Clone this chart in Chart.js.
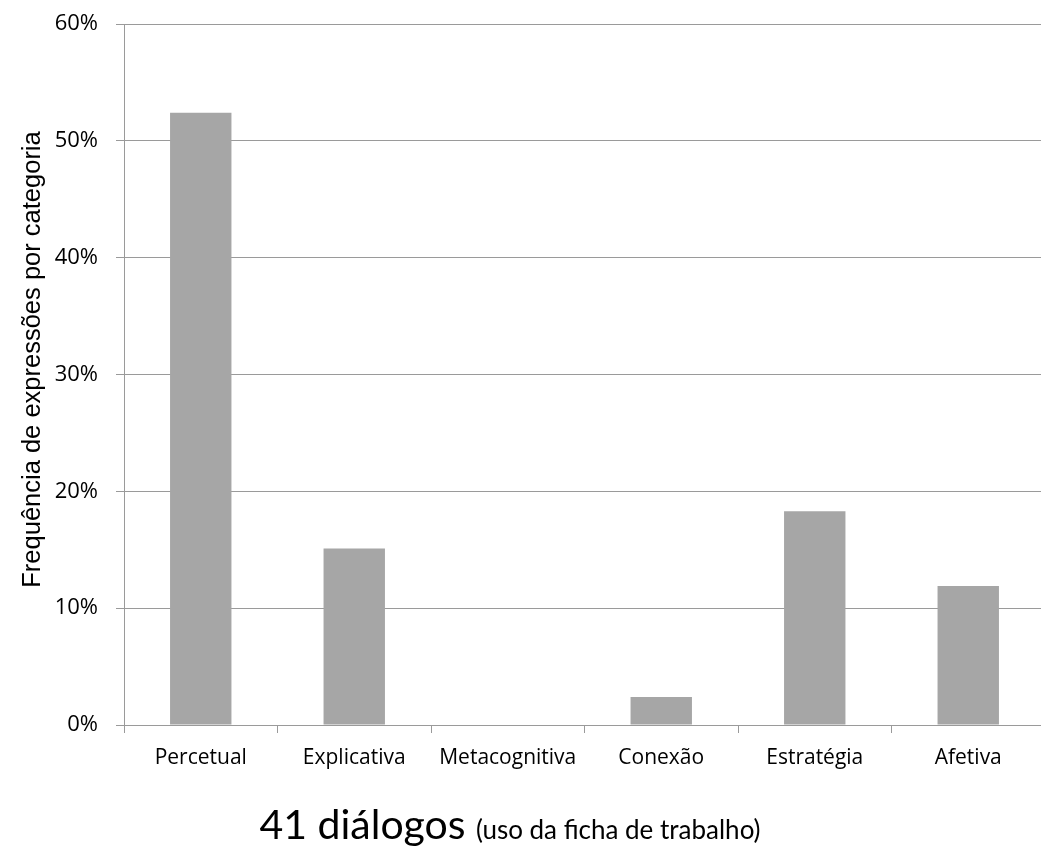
<!DOCTYPE html>
<html>
<head>
<meta charset="utf-8">
<script src="https://cdn.jsdelivr.net/npm/chart.js@4/dist/chart.umd.min.js"></script>
<style>
  html, body { margin: 0; padding: 0; background: #ffffff; overflow: hidden; }
  canvas { display: block; }
</style>
</head>
<body>
<canvas id="chart" width="1050" height="850" style="width:1050px;height:850px"></canvas>
<script>
// Categorias de expressões e respetiva frequência (%)
const categories = ['Percetual', 'Explicativa', 'Metacognitiva', 'Conexão', 'Estratégia', 'Afetiva'];
const frequencia = [52.4, 15.1, 0, 2.4, 18.3, 11.9];
const yTickValues = [0, 10, 20, 30, 40, 50, 60];
const yAxisTitle = 'Frequência de expressões por categoria';
const titleMain = '41 diálogos';
const titleSub = '(uso da ficha de trabalho)';

const GRID = '#9a9a9a';
const LABEL_FONT = '"Open Sans", "DejaVu Sans", sans-serif';
const TITLE_FONT = 'Lato, "Open Sans", sans-serif';
const AXIS_TITLE_FONT = '"Liberation Sans", Arial, sans-serif';

// Textos fixos: título do eixo vertical e título por baixo do gráfico
const chartTexts = {
  id: 'chartTexts',
  afterDraw(chart) {
    const ctx = chart.ctx;
    const area = chart.chartArea;

    // título do eixo vertical, rodado
    ctx.save();
    ctx.fillStyle = '#000000';
    ctx.font = '25.5px ' + AXIS_TITLE_FONT;
    ctx.textAlign = 'center';
    ctx.textBaseline = 'middle';
    ctx.translate(33, (area.top + area.bottom) / 2 - 15);
    ctx.rotate(-Math.PI / 2);
    ctx.fillText(yAxisTitle, 0, 0);
    ctx.restore();

    // título inferior em duas partes
    ctx.save();
    ctx.fillStyle = '#000000';
    ctx.textBaseline = 'alphabetic';
    ctx.textAlign = 'left';
    const mainFont = '41px ' + TITLE_FONT;
    const subFont = '26px ' + TITLE_FONT;
    ctx.font = mainFont;
    const w1 = ctx.measureText(titleMain + ' ').width;
    ctx.font = subFont;
    const w2 = ctx.measureText(titleSub).width;
    const cx = 510, baseY = 839;
    const x0 = cx - (w1 + w2) / 2;
    ctx.font = mainFont;
    ctx.fillText(titleMain + ' ', x0, baseY);
    ctx.font = subFont;
    ctx.fillText(titleSub, x0 + w1, baseY);
    ctx.restore();
  }
};

new Chart(document.getElementById('chart'), {
  type: 'bar',
  data: {
    labels: categories,
    datasets: [{
      data: frequencia,
      backgroundColor: '#a6a6a6',
      borderWidth: 0,
      barPercentage: 0.4,
      categoryPercentage: 1.0
    }]
  },
  options: {
    responsive: false,
    animation: false,
    devicePixelRatio: 1,
    layout: { padding: { top: 24, right: 5, bottom: 0, left: 0 } },
    plugins: {
      legend: { display: false },
      tooltip: { enabled: false },
      title: { display: false }
    },
    scales: {
      x: {
        offset: true,
        grid: {
          display: true,
          offset: true,
          drawOnChartArea: false,
          drawTicks: true,
          tickLength: 8,
          color: GRID
        },
        border: { display: true, color: GRID, width: 1 },
        ticks: {
          color: '#000000',
          font: { family: LABEL_FONT, size: 21 },
          padding: 12,
          maxRotation: 0,
          autoSkip: false
        },
        afterFit(scale) {
          scale.height = 125;
          scale.paddingLeft = 0;
          scale.paddingRight = 0;
        }
      },
      y: {
        min: 0,
        max: 60,
        afterBuildTicks(scale) {
          scale.ticks = yTickValues.map(v => ({ value: v }));
        },
        grid: {
          color: GRID,
          lineWidth: 1,
          drawTicks: true,
          tickLength: 8
        },
        border: { display: true, color: GRID, width: 1 },
        ticks: {
          color: '#000000',
          font: { family: LABEL_FONT, size: 22 },
          padding: 18,
          callback: v => v + '%'
        },
        afterFit(scale) {
          scale.width = 124;
          scale.paddingTop = 0;
          scale.paddingBottom = 0;
        }
      }
    }
  },
  plugins: [chartTexts]
});
</script>
</body>
</html>
